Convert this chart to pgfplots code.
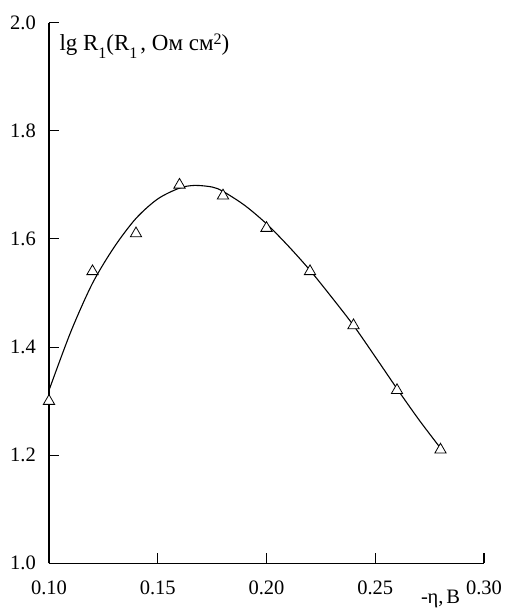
\documentclass[border=0pt]{standalone}
\usepackage{fontspec}
\setmainfont{Liberation Serif}
\usepackage{pgfplots}
\pgfplotsset{compat=1.18}

% lowered / raised indices for the axis caption
\newcommand{\lo}[1]{\raisebox{-8.6pt}{\fontsize{16}{16}\selectfont #1}}
\newcommand{\hi}[1]{\raisebox{5.7pt}{\fontsize{16}{16}\selectfont #1}}

% measured points
\pgfplotstableread{
x     y
0.10  1.30
0.12  1.54
0.14  1.61
0.16  1.70
0.18  1.68
0.20  1.62
0.22  1.54
0.24  1.44
0.26  1.32
0.28  1.21
}\measured

% smoothed fit curve
\pgfplotstableread{
x      y
0.100  1.320
0.110  1.428
0.120  1.518
0.130  1.585
0.140  1.638
0.150  1.674
0.160  1.694
0.167  1.699
0.175  1.696
0.180  1.688
0.190  1.662
0.200  1.628
0.210  1.587
0.220  1.542
0.230  1.492
0.240  1.440
0.250  1.382
0.260  1.323
0.270  1.266
0.280  1.213
}\fitcurve

\begin{document}
\begin{tikzpicture}
\begin{axis}[
  scale only axis,
  width=435pt, height=540.6pt,
  xmin=0.10, xmax=0.30, ymin=1.0, ymax=2.0,
  axis x line*=bottom, axis y line*=left,
  axis line style={-, line width=1.1pt},
  tick align=inside,
  major tick length=10pt,
  every tick/.style={black, line width=1.1pt},
  xtick={0.10,0.15,0.20,0.25,0.30},
  ytick={1.0,1.2,1.4,1.6,1.8,2.0},
  font=\fontsize{20.5}{24}\selectfont,
  /pgf/number format/assume math mode=true,
  tick label style={inner sep=0pt},
  xticklabel style={/pgf/number format/fixed, /pgf/number format/fixed zerofill,
    /pgf/number format/precision=2, yshift=-17pt},
  yticklabel style={/pgf/number format/fixed, /pgf/number format/fixed zerofill,
    /pgf/number format/precision=1, xshift=-13pt},
  clip=false,
]
\addplot[black, line width=1.1pt, smooth, tension=0.5] table {\fitcurve};
\addplot[only marks, mark=triangle*, mark size=6.5pt,
  mark options={fill=white, draw=black, line width=0.8pt}] table {\measured};
\node[anchor=base west, inner sep=0pt, font=\fontsize{23}{27}\selectfont]
  at ([xshift=10.3pt, yshift=-27.6pt]rel axis cs:0,1)
  {lg R\lo{1}(R\lo{1}\kern3pt, Ом см\hi{2})};
\node[anchor=base west, inner sep=0pt]
  at ([xshift=-63pt, yshift=-40.5pt]rel axis cs:1,0)
  {-\kern-0.5ptη,\kern3pt В};
\coordinate (O) at (rel axis cs:0,0);
\end{axis}
\pgfresetboundingbox
\path[use as bounding box] (O) ++(-49pt,-45.7pt) rectangle ++(505pt,609pt);
\end{tikzpicture}
\end{document}
